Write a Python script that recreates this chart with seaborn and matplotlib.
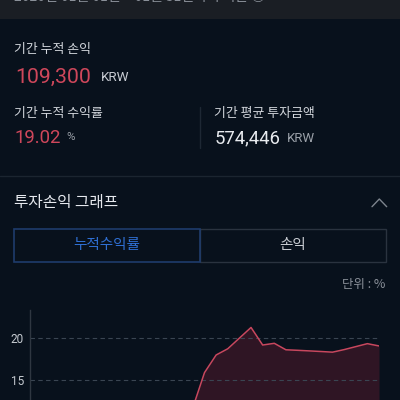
import matplotlib
matplotlib.use("Agg")
import matplotlib.pyplot as plt
from matplotlib.patches import Rectangle
from matplotlib.lines import Line2D
from matplotlib import font_manager as fm
import seaborn as sns
import pandas as pd

# ---- data ----
days = list(range(31))
rate = [9.8, 10.1, 9.6, 10.4, 10.9, 10.2, 9.7, 10.5, 11.0, 10.6, 10.1, 10.8, 11.2, 11.5,
        11.8, 15.9, 17.97, 18.7, 19.95, 21.2, 19.14, 19.34, 18.58, 18.52, 18.45, 18.38,
        18.3, 18.6, 18.95, 19.3, 19.03]
y_grid = [0, 5, 10, 15, 20]
y_ticks = [15, 20]          # the only tick labels inside the visible crop
tabs = ["누적수익률", "손익"]

BG = "#08111c"
STRIP = "#1a1e24"
RED = "#cf475b"
KR = ["Noto Sans CJK KR", "DejaVu Sans"]


def pick(name, alt):
    try:
        fm.findfont(fm.FontProperties(family=name), fallback_to_default=False)
        return name
    except Exception:
        return alt


NUMFAM = pick("Roboto", "Noto Sans")
NUM = [NUMFAM, "DejaVu Sans"]

sns.set_theme(style="dark")
plt.rcParams["font.family"] = KR

W, H = 400, 400
fig = plt.figure(figsize=(4, 4), dpi=100, facecolor=BG)
renderer = fig.canvas.get_renderer()


def fx(x):
    return x / W


def fy(y):
    return 1 - y / H


def T(x, y, s, width=None, **kw):
    t = fig.text(fx(x), fy(y), s, **kw)
    if width is not None:
        w = t.get_window_extent(renderer=renderer).width
        if w > 0:
            t.set_fontsize(t.get_fontsize() * width / w)
    return t


# top strip
fig.patches.append(Rectangle((0, fy(19)), 1, 19 / H, transform=fig.transFigure,
                             facecolor=STRIP, edgecolor="none", zorder=0))
T(14, 3.5, "2020년 01월 01일 ~ 01월 31일까지 기준 ⓘ", color="#8a9099",
  fontsize=10, va="bottom", ha="left", family=KR)

# summary
T(14, 50, "기간 누적 손익", width=77, color="#d3d7dd", fontsize=8.5, va="center", family=KR)
T(15.5, 83.3, "109,300", width=76, color=RED, fontsize=16, va="baseline", family=NUM)
T(100.5, 80.8, "KRW", width=28.5, color="#c8ccd3", fontsize=9.5, va="baseline", family=NUM)

T(14, 113, "기간 누적 수익률", width=89, color="#d3d7dd", fontsize=8.5, va="center", family=KR)
T(15, 143, "19.02", width=47, color=RED, fontsize=13.5, va="baseline", family=NUM)
T(66, 140, "%", width=8.5, color="#9aa0a8", fontsize=8, va="baseline", family=NUM)

fig.lines.append(Line2D([fx(200), fx(200)], [fy(107), fy(148)], transform=fig.transFigure,
                        color="#1e2834", linewidth=1))
T(214, 113, "기간 평균 투자금액", width=101, color="#d3d7dd", fontsize=8.5, va="center", family=KR)
T(214.5, 143, "574,446", width=66, color="#e8ebef", fontsize=13.5, va="baseline", family=NUM)
T(287, 141.7, "KRW", width=28, color="#9aa0a8", fontsize=9, va="baseline", family=NUM)

# separator
fig.lines.append(Line2D([0, 1], [fy(176), fy(176)], transform=fig.transFigure,
                        color="#1b2530", linewidth=1))

# section title
T(14, 202.7, "투자손익 그래프", width=104, color="#e6e9ee", fontsize=11.3, va="center", family=KR)
fig.lines.append(Line2D([fx(372), fx(379.3), fx(386.7)], [fy(206.7), fy(199), fy(206.7)],
                        transform=fig.transFigure, color="#7d848d", linewidth=1))

# tabs
fig.patches.append(Rectangle((fx(200), fy(261.7)), fx(385.7) - fx(200), (261.7 - 229.3) / H,
                             transform=fig.transFigure, facecolor="none",
                             edgecolor="#2a333f", linewidth=1))
fig.patches.append(Rectangle((fx(14), fy(261.7)), fx(200) - fx(14), (261.7 - 229.3) / H,
                             transform=fig.transFigure, facecolor="none",
                             edgecolor="#1e3c6c", linewidth=1.2))
T(106.5, 245.5, tabs[0], color="#2f6fd2", fontsize=10.5, va="center", ha="center", family=KR)
T(293, 245.5, tabs[1], color="#c8ccd2", fontsize=10.5, va="center", ha="center", family=KR)

T(385.7, 284.5, "단위 : %", color="#8a9099", fontsize=9, va="center", ha="right", family=KR)

# chart
ymin, ymax = 0, 23.25
px_per_unit = 8.52
top_px = 310
bot_px = 337.7 + 20 * px_per_unit
ax = fig.add_axes([fx(30), fy(bot_px), (379 - 30) / W, (bot_px - top_px) / H])
ax.set_facecolor("none")
df = pd.DataFrame({"day": days, "rate": rate})
ax.fill_between(df["day"], df["rate"], ymin, color="#2f1524", linewidth=0, zorder=1)
sns.lineplot(data=df, x="day", y="rate", ax=ax, color="#c8475e", linewidth=1.1, zorder=3)
ax.set_xlim(0, 30)
ax.set_ylim(ymin, ymax)
ax.set_yticks(y_ticks)
ax.set_yticklabels([str(v) for v in y_ticks], family=NUM)
ax.set_xticks([])
ax.set_xlabel("")
ax.set_ylabel("")
ax.grid(False)
for v in y_grid:
    ax.axhline(v, color="#3a4552", linewidth=0.8, linestyle=(0, (4, 3)), zorder=2)
ax.tick_params(axis="y", length=0, pad=4.5, labelsize=8.5, labelcolor="#c5cad0")
for side in ["top", "right", "bottom"]:
    ax.spines[side].set_visible(False)
ax.spines["left"].set_color("#2f3741")
ax.spines["left"].set_linewidth(1)

fig.savefig("out.png", dpi=100, facecolor=BG)
